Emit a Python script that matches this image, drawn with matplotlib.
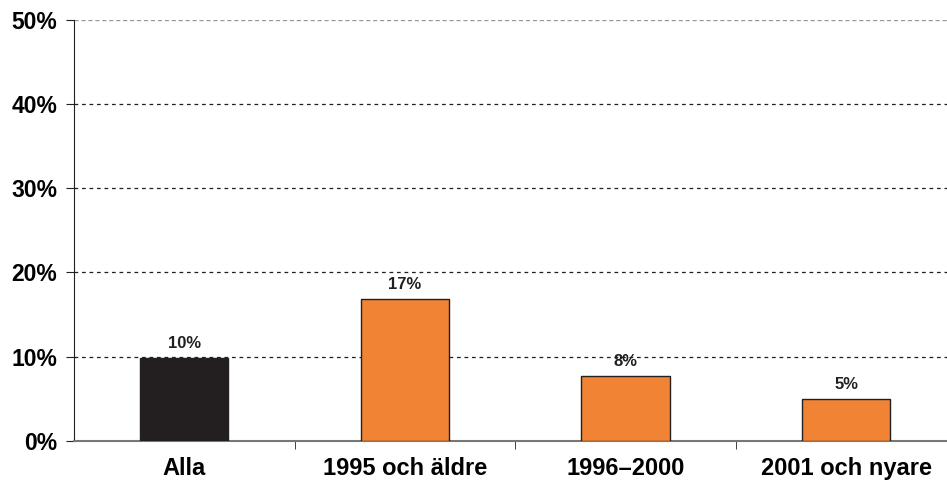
import matplotlib.pyplot as plt
import numpy as np

plt.rcParams['font.family'] = ['Liberation Sans', 'DejaVu Sans']

categories = ['Alla', '1995 och äldre', '1996–2000', '2001 och nyare']
values = [9.8, 16.8, 7.7, 5.0]
labels = ['10%', '17%', '8%', '5%']
colors = ['#231f20', '#f08434', '#f08434', '#f08434']

fig = plt.figure(figsize=(9.47, 4.86), dpi=100)
# the plot area runs a little past the right edge of the picture
ax = fig.add_axes([0.078, 0.093, 0.932, 0.866])

x = np.arange(len(categories))
bars = ax.bar(x, values, width=0.40, color=colors, edgecolor='#231f20', linewidth=1.0, zorder=3)

for b, lab in zip(bars, labels):
    ax.annotate(lab, (b.get_x() + b.get_width() / 2, b.get_height()),
                xytext=(0, 5), textcoords='offset points', ha='center', va='bottom',
                fontsize=12, fontweight='bold', color='#231f20')

ax.set_xlim(-0.5, 3.5)
ax.set_ylim(0, 50)
ax.set_yticks([0, 10, 20, 30, 40, 50])
ax.set_yticklabels(['0%', '10%', '20%', '30%', '40%', '50%'], fontsize=16.5, fontweight='bold')
for t in [10, 20, 30, 40]:
    ax.axhline(t, color='#231f20', linestyle=(0, (3, 3)), linewidth=0.9, zorder=1)
ax.axhline(50, color='#999999', linestyle=(0, (3, 2)), linewidth=1.0, zorder=1)

ax.set_xticks(x)
ax.set_xticklabels(categories, fontsize=17, fontweight='bold')
ax.tick_params(axis='x', length=0, pad=12)
ax.set_xticks([0.5, 1.5, 2.5], minor=True)
ax.tick_params(axis='x', which='minor', length=6, direction='out', color='#231f20')
ax.tick_params(axis='y', length=6, direction='out', color='#231f20', pad=6)

ax.spines['top'].set_visible(False)
ax.spines['right'].set_visible(False)
ax.spines['left'].set_color('#231f20')
ax.spines['bottom'].set_color('#777777')
ax.spines['bottom'].set_linewidth(1.5)

fig.savefig('out.png', dpi=100)
